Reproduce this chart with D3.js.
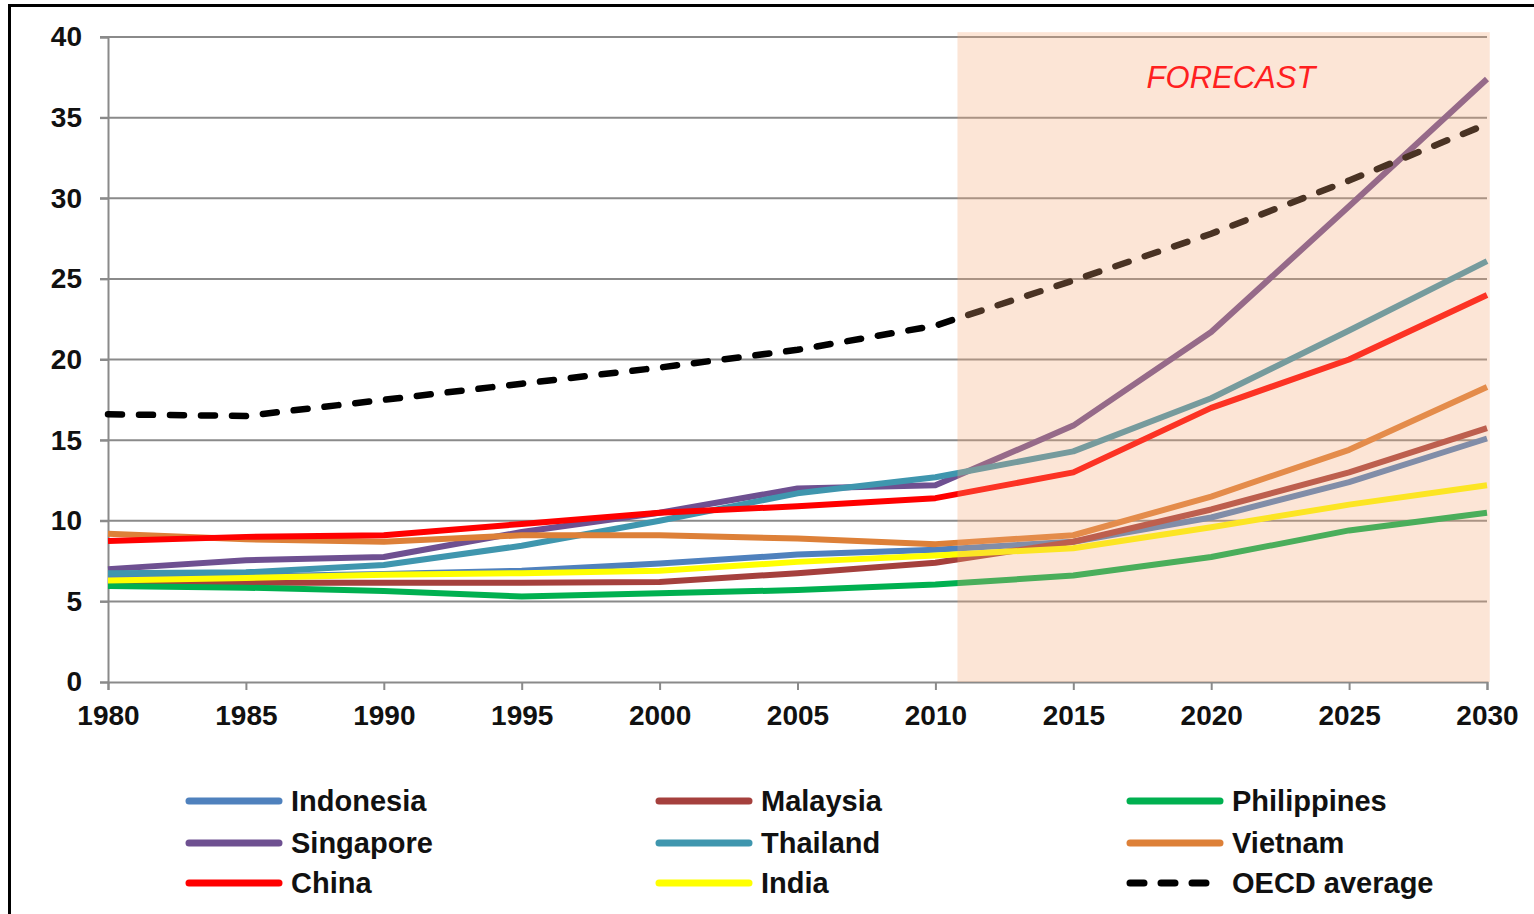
<!DOCTYPE html>
<html>
<head>
<meta charset="utf-8">
<script src="https://cdn.jsdelivr.net/npm/d3@7"></script>
<style>
  body { margin: 0; background: #fff; }
  svg { display: block; }
</style>
</head>
<body>
<div id="chart"></div>
<script>

// years on the x axis
var years = [1980, 1985, 1990, 1995, 2000, 2005, 2010, 2015, 2020, 2025, 2030];

// series values
var indonesia   = [6.5, 6.55, 6.7, 6.9, 7.35, 7.9, 8.2, 8.7, 10.2, 12.4, 15.1];
var malaysia    = [6.2, 6.15, 6.15, 6.15, 6.2, 6.75, 7.4, 8.7, 10.7, 13.0, 15.75];
var philippines = [5.95, 5.85, 5.65, 5.3, 5.5, 5.7, 6.05, 6.6, 7.75, 9.4, 10.5];
var singapore   = [7.0, 7.55, 7.75, 9.3, 10.5, 12.0, 12.2, 15.9, 21.7, 29.5, 37.4];
var thailand    = [6.75, 6.8, 7.25, 8.45, 10.0, 11.7, 12.7, 14.3, 17.6, 21.8, 26.1];
var vietnam     = [9.2, 8.85, 8.7, 9.1, 9.1, 8.9, 8.55, 9.1, 11.5, 14.4, 18.3];
var china       = [8.75, 9.0, 9.1, 9.8, 10.5, 10.9, 11.4, 13.0, 17.0, 20.0, 24.0];
var india       = [6.3, 6.45, 6.65, 6.75, 6.9, 7.45, 7.85, 8.3, 9.6, 11.0, 12.2];
var oecd        = [16.6, 16.5, 17.5, 18.5, 19.5, 20.6, 22.1, 24.9, 27.8, 31.1, 34.6];

var seriesNames = ["Indonesia", "Malaysia", "Philippines", "Singapore", "Thailand",
                   "Vietnam", "China", "India", "OECD average"];
var seriesValues = [indonesia, malaysia, philippines, singapore, thailand,
                    vietnam, china, india, oecd];
var colors = ["#4F81BD", "#A5403D", "#00B050", "#6E5091", "#3F96AE",
              "#DD8038", "#FF0000", "#FFFF00", "#000000"];

var yTicks = [0, 5, 10, 15, 20, 25, 30, 35, 40];
var forecastStart = 2010.8;
var forecastLabel = "FORECAST";

var width = 1534, height = 914;

var svg = d3.select("#chart").append("svg")
    .attr("width", width)
    .attr("height", height);

//outer frame
svg.append("rect")
    .attr("x", 9.5).attr("y", 5.5)
    .attr("width", 1560).attr("height", 940)
    .style("fill", "none")
    .style("stroke", "#000")
    .style("stroke-width", 3);

var x = d3.scaleLinear().domain([1980, 2030]).range([108, 1487]);
var y = d3.scaleLinear().domain([0, 40]).range([682, 37]);

var g = svg.append("g");

//gridlines
g.selectAll(".grid").data(yTicks.slice(1))
    .enter().append("line")
    .attr("class", "grid")
    .attr("x1", x(1980) - 8).attr("x2", x(2030))
    .attr("y1", function(d){ return y(d); })
    .attr("y2", function(d){ return y(d); })
    .style("stroke", "#8a8a8a")
    .style("stroke-width", 2);

//y axis
var yAxis = d3.axisLeft(y).tickValues(yTicks).tickSize(8).tickPadding(18);
var ya = g.append("g").attr("transform", "translate(" + x(1980) + ",0)").call(yAxis);

//x axis
var xAxis = d3.axisBottom(x).tickValues(years).tickSize(8).tickPadding(15)
    .tickFormat(d3.format("d"));
var xa = g.append("g").attr("transform", "translate(0," + y(0) + ")").call(xAxis);

[ya, xa].forEach(function(a){
    a.select(".domain").style("stroke", "#8a8a8a").style("stroke-width", 2);
    a.selectAll(".tick line").style("stroke", "#8a8a8a").style("stroke-width", 2);
    a.selectAll("text")
        .style("font-family", "'Liberation Sans', Arial, sans-serif")
        .style("font-weight", "bold")
        .style("font-size", "28px")
        .style("fill", "#111");
});

//series lines
var line = d3.line()
    .x(function(d, i){ return x(years[i]); })
    .y(function(d){ return y(d); });

seriesValues.forEach(function(vals, i){
    var p = g.append("path")
        .datum(vals)
        .attr("d", line)
        .style("fill", "none")
        .style("stroke", colors[i])
        .style("stroke-width", 6)
        .style("stroke-linejoin", "round");
    if (i == 8) {
        p.style("stroke-dasharray", "14,17").style("stroke-linecap", "round")
         .style("stroke-width", 6.5);
    }
});

//forecast shading drawn over the lines
g.append("rect")
    .attr("x", x(forecastStart))
    .attr("y", y(40.3))
    .attr("width", x(2030.1) - x(forecastStart))
    .attr("height", y(0) - y(40.3))
    .style("fill", "#F5A876")
    .style("opacity", 0.3);

g.append("text")
    .attr("x", 1231).attr("y", 88)
    .attr("text-anchor", "middle")
    .style("font-family", "'Liberation Sans', Arial, sans-serif")
    .style("font-style", "italic")
    .style("font-size", "31px")
    .style("fill", "#FF2020")
    .text(forecastLabel);

//legend
var legCols = [186, 656, 1127];
var legRows = [801, 843, 883];

var leg = svg.selectAll(".legend").data(seriesNames)
    .enter().append("g")
    .attr("class", "legend")
    .attr("transform", function(d, i){
        return "translate(" + legCols[i % 3] + "," + legRows[Math.floor(i / 3)] + ")";
    });

leg.append("line")
    .attr("x1", 3).attr("x2", function(d, i){ return i == 8 ? 90 : 93; })
    .attr("y1", 0).attr("y2", 0)
    .style("stroke", function(d, i){ return colors[i]; })
    .style("stroke-width", 7)
    .style("stroke-linecap", "round")
    .style("stroke-dasharray", function(d, i){ return i == 8 ? "14,17" : null; });

leg.append("text")
    .attr("x", 105).attr("y", 10)
    .style("font-family", "'Liberation Sans', Arial, sans-serif")
    .style("font-weight", "bold")
    .style("font-size", "29px")
    .style("fill", "#111")
    .text(function(d){ return d; });

</script>
</body>
</html>
